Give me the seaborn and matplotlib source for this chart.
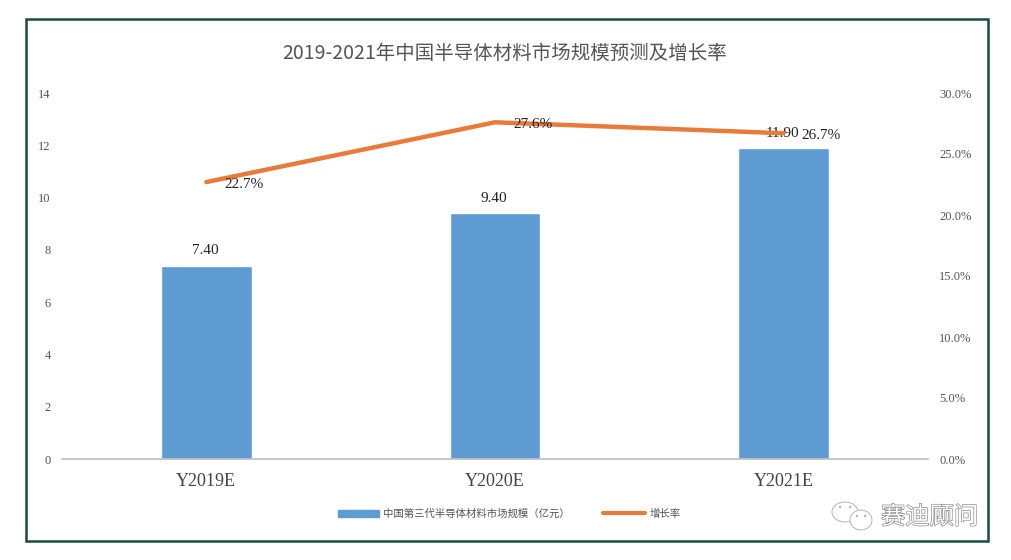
import matplotlib
matplotlib.use("Agg")
import matplotlib.pyplot as plt
import matplotlib.patches as mpatches
import matplotlib.patheffects as pe
from matplotlib.lines import Line2D
from matplotlib.ticker import FuncFormatter
import pandas as pd
import seaborn as sns

categories = ["Y2019E", "Y2020E", "Y2021E"]
market_size = [7.40, 9.40, 11.90]
growth_rate = [22.7, 27.6, 26.7]
left_ticks = [0, 2, 4, 6, 8, 10, 12, 14]
right_ticks = [0, 5, 10, 15, 20, 25, 30]

BLUE = "#5F9BD3"
ORANGE = "#E97B3A"
CJK = ["Noto Sans CJK SC", "DejaVu Sans"]
SERIF = "Liberation Serif"

sns.set_theme(style="white")
plt.rcParams["font.family"] = CJK

W, H = 1012, 560
fig = plt.figure(figsize=(W / 100, H / 100), dpi=100, facecolor="white")
fig.add_artist(mpatches.Rectangle((26 / W, 1 - 541 / H), 962 / W, 522 / H, transform=fig.transFigure,
                                  fill=False, edgecolor="#174A41", linewidth=1.8))

ax = fig.add_axes([62 / W, 1 - 459 / H, 866 / W, 366 / H])
df = pd.DataFrame({"year": categories, "size": market_size})
sns.barplot(data=df, x="year", y="size", color=BLUE, saturation=1, width=0.315, ax=ax)
ax.set_ylim(0, 14)
ax.set_xlim(-0.5, 2.5)
ax.set_yticks(left_ticks)
ax.set_xlabel("")
ax.set_ylabel("")
ax.tick_params(axis="y", length=0, labelsize=9, labelcolor="#555555", pad=8)
ax.tick_params(axis="x", length=0, labelsize=13, labelcolor="#444444", pad=10)
for lab in ax.get_xticklabels() + ax.get_yticklabels():
    lab.set_family(SERIF)
for name in ["top", "left", "right"]:
    ax.spines[name].set_visible(False)
ax.spines["bottom"].set_color("#BFBFBF")

for i, v in enumerate(market_size):
    ax.annotate(f"{v:.2f}", (i, v), xytext=(-1, 6), textcoords="offset points", ha="center", va="bottom",
                fontsize=11, family=SERIF, color="#222222")

ax2 = ax.twinx()
sns.lineplot(x=[0, 1, 2], y=growth_rate, color=ORANGE, linewidth=3.2, ax=ax2, legend=False)
ax2.set_ylim(0, 30)
ax2.set_yticks(right_ticks)
ax2.yaxis.set_major_formatter(FuncFormatter(lambda v, _: f"{v:.1f}%"))
ax2.tick_params(axis="y", length=0, labelsize=9, labelcolor="#555555", pad=8)
for lab in ax2.get_yticklabels():
    lab.set_family(SERIF)
for name in ["top", "left", "right", "bottom"]:
    ax2.spines[name].set_visible(False)
ax2.grid(False)

for i, v in enumerate(growth_rate):
    ax2.annotate(f"{v:.1f}%", (i, v), xytext=(13, 3), textcoords="offset points", ha="left", va="top",
                 fontsize=11, family=SERIF, color="#222222")

fig.text(505 / W, 1 - 53 / H, "2019-2021年中国半导体材料市场规模预测及增长率", ha="center", va="center",
         fontsize=14, color="#555555")

handles = [mpatches.Patch(color=BLUE), Line2D([0], [0], color=ORANGE, linewidth=3)]
fig.legend(handles, ["中国第三代半导体材料市场规模（亿元）", "增长率"], loc="center", bbox_to_anchor=(509 / W, 1 - 514 / H),
           ncol=2, frameon=False, fontsize=7.5, labelcolor="#555555", columnspacing=3.2, handlelength=4.0,
           handletextpad=0.4)

# watermark
fig.text(978 / W, 1 - 517 / H, "赛迪顾问", ha="right", va="center", fontsize=17.5, color="white",
         path_effects=[pe.withStroke(linewidth=0.9, foreground="#808080")])
fig.add_artist(mpatches.Ellipse((845 / W, 1 - 512 / H), 26 / W, 20 / H, transform=fig.transFigure,
                                fill=False, edgecolor="#B5B5B5", linewidth=0.7))
fig.add_artist(mpatches.Ellipse((861 / W, 1 - 520 / H), 22 / W, 20 / H, transform=fig.transFigure,
                                facecolor="white", edgecolor="#B5B5B5", linewidth=0.7))
for dot_x, dot_y in [(840, 507), (850, 507), (857, 516), (865, 516)]:
    fig.add_artist(mpatches.Ellipse((dot_x / W, 1 - dot_y / H), 2.5 / W, 2.5 / H, transform=fig.transFigure,
                                    facecolor="#B5B5B5", edgecolor="none"))

fig.savefig("out.png", dpi=100)
